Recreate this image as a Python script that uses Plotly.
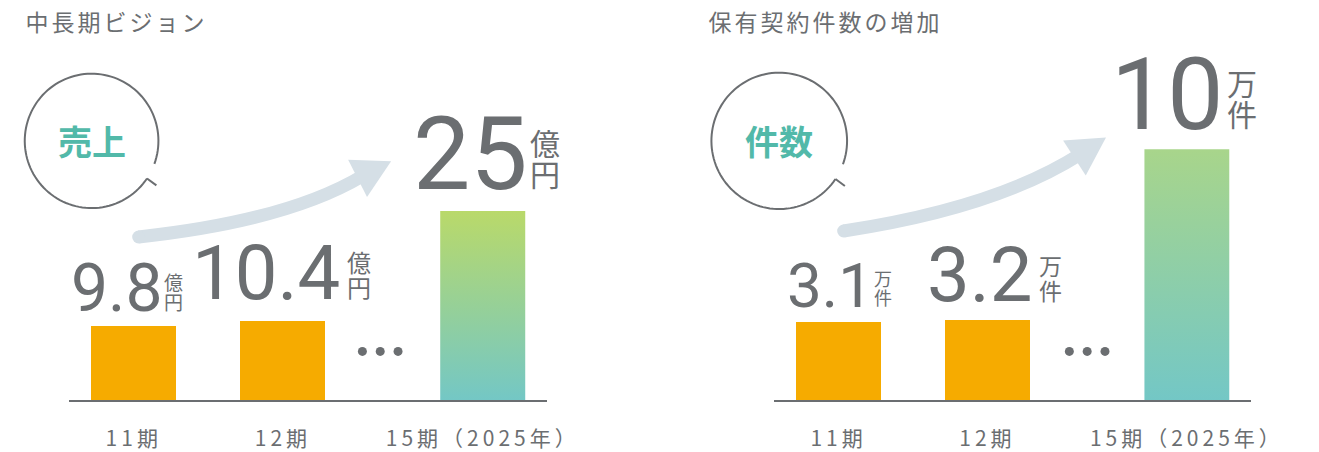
import numpy as np
import plotly.graph_objects as go

# ---------------- data ----------------
categories = ["11期", "12期", "15期（2025年）"]
sales = [9.8, 10.4, 25]            # 売上（億円）
contracts = [3.1, 3.2, 10]         # 保有契約件数（万件）
sales_unit = ["億", "円"]
contract_unit = ["万", "件"]
panel_titles = ["中長期ビジョン", "保有契約件数の増加"]
circle_labels = ["売上", "件数"]

# ---------------- style ----------------
W, H = 1319, 452
GRAY = "#6b6e71"
ORANGE = "#f6ab00"
TEAL = "#52b9a9"
ARROW = "#d5dfe6"
JP = "Noto Sans CJK JP"
NUM = "Roboto"

xpos = [0, 1, 2.34]      # slot positions (a gap for 13期・14期)
barw = 0.57
base_px = 401.7          # baseline, px from top

panels = [
    dict(vals=sales, unit=sales_unit, xa="x", ya="y", xdom=(70, 552), top_px=212,
         grad=("#73c7c6", "#b9d96a"),
         num_size=[66, 76, 102], unit_size=[19, 24, 30],
         num_right=[31, 59, 47], unit_left=[28, 62, 45], gap=[13, 20, 20],
         title_cx=118, circle=(92.5, 141.5, 67.5),
         arrow=dict(start=(140, 238), ctrl=(290, 222), tip=(395, 162), ang=-27),
         dots_x=[366, 384, 402]),
    dict(vals=contracts, unit=contract_unit, xa="x2", ya="y2", xdom=(782, 1263), top_px=150,
         grad=("#73c7c6", "#a8d58b"),
         num_size=[62, 76, 100], unit_size=[18, 23, 30],
         num_right=[36, 47, 38], unit_left=[33, 50, 38], gap=[14, 16, 18],
         title_cx=834, circle=(787, 141.5, 68.5),
         arrow=dict(start=(852, 232), ctrl=(1005, 209), tip=(1117, 138), ang=-33),
         dots_x=[1080, 1098, 1116]),
]

fig = go.Figure()
annotations = []
shapes = []

for k, p in enumerate(panels):
    vals = p["vals"]
    ymax = max(vals) * (base_px) / (base_px - p["top_px"])
    # orange bars
    fig.add_trace(go.Bar(x=xpos[:2], y=vals[:2], width=barw, marker=dict(color=ORANGE, line_width=0),
                         xaxis=p["xa"], yaxis=p["ya"], hoverinfo="skip", showlegend=False))
    # gradient bar (target year)
    x0, x1 = xpos[2] - barw / 2, xpos[2] + barw / 2
    v = vals[2]
    fig.add_trace(go.Scatter(x=[x0, x1, x1, x0, x0], y=[0, 0, v, v, 0], mode="lines",
                             line=dict(width=0), fill="toself",
                             fillgradient=dict(type="vertical", start=0, stop=v,
                                               colorscale=[[0, p["grad"][0]], [1, p["grad"][1]]]),
                             xaxis=p["xa"], yaxis=p["ya"], hoverinfo="skip", showlegend=False))
    # value labels
    for i, val in enumerate(vals):
        ns = p["num_size"][i]
        us = p["unit_size"][i]
        g = p["gap"][i]
        annotations.append(dict(x=xpos[i], y=val, xref=p["xa"], yref=p["ya"], text=f"{val:g}",
                                xanchor="right", yanchor="bottom", showarrow=False,
                                xshift=p["num_right"][i], yshift=g - 0.23 * ns - 1,
                                font=dict(family=NUM, size=ns, color=GRAY)))
        ys = g - 0.17 * us - 1
        for j, ch in enumerate(reversed(p["unit"])):
            annotations.append(dict(x=xpos[i], y=val, xref=p["xa"], yref=p["ya"], text=ch,
                                    xanchor="left", yanchor="bottom", showarrow=False,
                                    xshift=p["unit_left"][i], yshift=ys + j * 1.05 * us,
                                    font=dict(family=JP, size=us, color=GRAY)))
    # axis setup
    xi = "" if k == 0 else "2"
    fig.update_layout(**{
        f"xaxis{xi}": dict(domain=[p["xdom"][0] / W, p["xdom"][1] / W], range=[-0.432, 2.768],
                           anchor=p["ya"], showgrid=False, zeroline=False, showline=True,
                           linecolor=GRAY, linewidth=2, tickmode="array", tickvals=xpos,
                           ticktext=categories, ticks="", ticklabelstandoff=19,
                           tickfont=dict(family=JP, size=21, color=GRAY), fixedrange=True),
        f"yaxis{xi}": dict(domain=[(H - base_px) / H, 1], range=[0, ymax], anchor=p["xa"],
                           visible=False, fixedrange=True),
    })
    # panel title
    annotations.append(dict(x=p["title_cx"], y=21, xref="x3", yref="y3", text=panel_titles[k],
                            xanchor="center", yanchor="middle", showarrow=False,
                            font=dict(family=JP, size=23, color=GRAY)))
    # speech-bubble circle
    cx, cy, r = p["circle"]
    a0, a1 = np.deg2rad(34), np.deg2rad(380)
    t = np.linspace(a0, a1, 120)
    pts = [(cx + r * np.cos(a), cy + r * np.sin(a)) for a in t]
    path = "M " + " L ".join(f"{x:.2f},{y:.2f}" for x, y in pts)
    shapes.append(dict(type="path", path=path, xref="x3", yref="y3",
                       line=dict(color=GRAY, width=2)))
    sx, sy = pts[0]
    shapes.append(dict(type="line", x0=sx, y0=sy, x1=sx + 9.5, y1=sy + 7, xref="x3", yref="y3",
                       line=dict(color=GRAY, width=2)))
    annotations.append(dict(x=cx, y=cy, xref="x3", yref="y3", text=f"<b>{circle_labels[k]}</b>",
                            showarrow=False, xanchor="center", yanchor="middle",
                            font=dict(family=JP, size=34, color=TEAL)))
    # curved arrow
    ar = p["arrow"]
    ang = np.deg2rad(ar["ang"])
    d = np.array([np.cos(ang), np.sin(ang)])
    n = np.array([-d[1], d[0]])
    tip = np.array(ar["tip"])
    L, hw = 38, 21
    base = tip - L * d
    b1, b2 = base + hw * n, base - hw * n
    shaft_end = base + 6 * d
    sx0, sy0 = ar["start"]
    cxp, cyp = ar["ctrl"]
    shapes.append(dict(type="path", xref="x3", yref="y3",
                       path=f"M {sx0},{sy0} Q {cxp},{cyp} {shaft_end[0]:.2f},{shaft_end[1]:.2f}",
                       line=dict(color=ARROW, width=13)))
    shapes.append(dict(type="circle", xref="x3", yref="y3", x0=sx0 - 6.5, x1=sx0 + 6.5,
                       y0=sy0 - 6.5, y1=sy0 + 6.5, fillcolor=ARROW, line=dict(width=0)))
    shapes.append(dict(type="path", xref="x3", yref="y3",
                       path=f"M {tip[0]:.2f},{tip[1]:.2f} L {b1[0]:.2f},{b1[1]:.2f} L {b2[0]:.2f},{b2[1]:.2f} Z",
                       fillcolor=ARROW, line=dict(width=0)))
    # ellipsis dots (skipped periods)
    fig.add_trace(go.Scatter(x=p["dots_x"], y=[353] * 3, mode="markers",
                             marker=dict(color=GRAY, size=9), xaxis="x3", yaxis="y3",
                             hoverinfo="skip", showlegend=False))

fig.update_layout(
    width=W, height=H, autosize=False,
    margin=dict(l=0, r=0, t=0, b=0),
    paper_bgcolor="white", plot_bgcolor="rgba(0,0,0,0)",
    xaxis3=dict(domain=[0, 1], range=[0, W], anchor="y3", visible=False, fixedrange=True),
    yaxis3=dict(domain=[0, 1], range=[H, 0], anchor="x3", visible=False, fixedrange=True),
    annotations=annotations, shapes=shapes, bargap=0,
)

post = """
document.body.style.margin = '0';
document.body.style.overflow = 'hidden';
var gd = document.getElementById('{plot_id}');
gd.querySelectorAll('.xtick text, .x2tick text').forEach(function(e){ e.style.letterSpacing = '4px'; });
gd.querySelectorAll('g.annotation').forEach(function(g){
  var t = g.querySelector('text');
  if (t && (t.textContent === '中長期ビジョン' || t.textContent === '保有契約件数の増加')) { t.style.letterSpacing = '3px'; }
});
"""
fig.write_html("out.html", post_script=post, config={"displayModeBar": False})
